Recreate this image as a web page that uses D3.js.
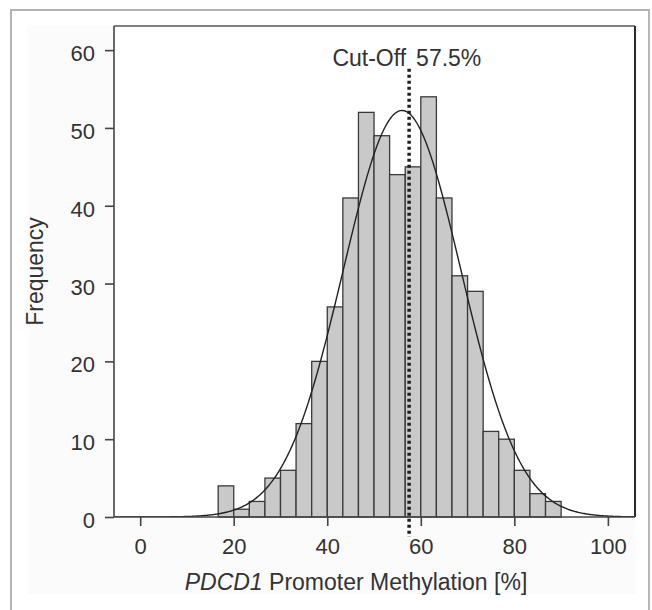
<!DOCTYPE html>
<html>
  <head>
    <meta charset="utf-8">
    <title>PDCD1 methylation histogram</title>
    <script src="https://cdn.jsdelivr.net/npm/d3@7"></script>
    <style type="text/css">
      body { margin: 0; background: #fff; }
      svg text { font-family: "Liberation Sans", Arial, sans-serif; fill: #333; }
    </style>
  </head>
  <body>
    <script>
    // bins of the histogram (lower edge of each bin, in % methylation)
    var binLow = [16.67, 20, 23.33, 26.67, 30, 33.33, 36.67, 40, 43.33, 46.67, 50,
                  53.33, 56.67, 60, 63.33, 66.67, 70, 73.33, 76.67, 80, 83.33, 86.67];
    var binWidth = 10 / 3;
    // counts per bin
    var counts = [4, 1, 2, 5, 6, 12, 20, 27, 41, 52, 49,
                  44, 45, 54, 41, 31, 29, 11, 10, 6, 3, 2];

    var xTicks = [0, 20, 40, 60, 80, 100];
    var yTicks = [0, 10, 20, 30, 40, 50, 60];

    // fitted normal curve + cut-off
    var fitMean = 56;
    var fitSd = 12.6;
    var cutOff = 57.5;
    var cutOffLabel = "57.5%";

    var width = 652, height = 610;
    var plot = {left: 114, top: 26, right: 635, bottom: 517};

    var svg = d3.select("body")
      .append("svg")
        .attr("width", width)
        .attr("height", height);

    // outer frame + very light panel
    svg.append("rect")
      .attr("x", 27).attr("y", 25)
      .attr("width", 610).attr("height", 569)
      .attr("fill", "#fbfbfb");
    svg.append("rect")
      .attr("x", 11).attr("y", 10)
      .attr("width", 638).attr("height", 620)
      .attr("fill", "none")
      .attr("stroke", "#b4b4b4")
      .attr("stroke-width", 2);

    svg.append("rect")
      .attr("x", plot.left).attr("y", plot.top)
      .attr("width", plot.right - plot.left).attr("height", plot.bottom - plot.top)
      .attr("fill", "#fff");

    var x = d3.scaleLinear()
      .domain([-5.6, 105.8])
      .range([plot.left, plot.right]);

    var y = d3.scaleLinear()
      .domain([0, 63.1])
      .range([plot.bottom, plot.top]);

    var data = binLow.map(function(d, i) {
      return {x0: d, x1: d + binWidth, n: counts[i]};
    });

    svg.append("g")
      .selectAll("rect")
      .data(data)
      .enter()
      .append("rect")
        .attr("x", function(d) { return x(d.x0); })
        .attr("y", function(d) { return y(d.n); })
        .attr("width", function(d) { return x(d.x1) - x(d.x0); })
        .attr("height", function(d) { return y(0) - y(d.n); })
        .attr("fill", "#c9c9c9")
        .attr("stroke", "#3a3a3a")
        .attr("stroke-width", 1.3);

    // normal curve scaled to the counts
    var total = d3.sum(counts);
    var curvePts = d3.range(x.domain()[0], x.domain()[1], 0.25).map(function(v) {
      var z = (v - fitMean) / fitSd;
      return [v, total * binWidth / (fitSd * Math.sqrt(2 * Math.PI)) * Math.exp(-0.5 * z * z)];
    });

    svg.append("clipPath").attr("id", "clip")
      .append("rect")
        .attr("x", plot.left).attr("y", plot.top)
        .attr("width", plot.right - plot.left).attr("height", plot.bottom - plot.top);

    svg.append("path")
      .datum(curvePts)
      .attr("clip-path", "url(#clip)")
      .attr("fill", "none")
      .attr("stroke", "#222")
      .attr("stroke-width", 1.4)
      .attr("d", d3.line()
        .x(function(d) { return x(d[0]); })
        .y(function(d) { return y(d[1]); }));

    // cut-off line (goes a bit below the axis like in the original)
    var cutTop = 57.6;
    svg.append("line")
      .attr("x1", x(cutOff)).attr("x2", x(cutOff))
      .attr("y1", y(cutTop)).attr("y2", y(0) + 20)
      .attr("stroke", "#1e1e1e")
      .attr("stroke-width", 3.5)
      .attr("stroke-dasharray", "3,3");

    svg.append("text")
      .attr("x", x(cutOff) - 3)
      .attr("y", y(cutTop) - 2.5)
      .attr("text-anchor", "end")
      .style("font-size", "23px")
      .text("Cut-Off");
    svg.append("text")
      .attr("x", x(cutOff) + 7)
      .attr("y", y(cutTop) - 2.5)
      .style("font-size", "23px")
      .text(cutOffLabel);

    // plot frame
    var frame = svg.append("g").attr("fill", "none");
    frame.append("line")
      .attr("x1", plot.left).attr("x2", plot.right)
      .attr("y1", plot.top).attr("y2", plot.top)
      .attr("stroke", "#555").attr("stroke-width", 1.3);
    frame.append("line")
      .attr("x1", plot.right).attr("x2", plot.right)
      .attr("y1", plot.top).attr("y2", plot.bottom)
      .attr("stroke", "#2a2a2a").attr("stroke-width", 2);
    frame.append("line")
      .attr("x1", plot.left).attr("x2", plot.left)
      .attr("y1", plot.top).attr("y2", plot.bottom)
      .attr("stroke", "#444").attr("stroke-width", 1.6);
    frame.append("line")
      .attr("x1", plot.left).attr("x2", plot.right)
      .attr("y1", plot.bottom).attr("y2", plot.bottom)
      .attr("stroke", "#444").attr("stroke-width", 1.6);

    // axes
    var yAxis = svg.append("g")
      .attr("transform", "translate(" + plot.left + ",0)")
      .call(d3.axisLeft(y).tickValues(yTicks).tickSize(9).tickPadding(10));

    var xAxis = svg.append("g")
      .attr("transform", "translate(0," + plot.bottom + ")")
      .call(d3.axisBottom(x).tickValues(xTicks).tickSize(9).tickPadding(12));

    [xAxis, yAxis].forEach(function(ax) {
      ax.select(".domain").remove();
      ax.selectAll(".tick line").attr("stroke", "#444").attr("stroke-width", 1.6);
      ax.selectAll(".tick text")
        .style("font-size", "22px")
        .style("font-family", "'Liberation Sans', Arial, sans-serif")
        .attr("fill", "#333");
    });
    yAxis.selectAll(".tick text").attr("dy", "0.48em");

    // axis titles
    svg.append("text")
      .attr("transform", "translate(43," + ((plot.top + plot.bottom) / 2) + ") rotate(-90)")
      .attr("text-anchor", "middle")
      .style("font-size", "23px")
      .text("Frequency");

    var xt = svg.append("text")
      .attr("x", 356)
      .attr("y", 590)
      .attr("text-anchor", "middle")
      .style("font-size", "23px");
    xt.append("tspan").style("font-style", "italic").text("PDCD1");
    xt.append("tspan").text(" Promoter Methylation [%]");

    </script>
  </body>
</html>
